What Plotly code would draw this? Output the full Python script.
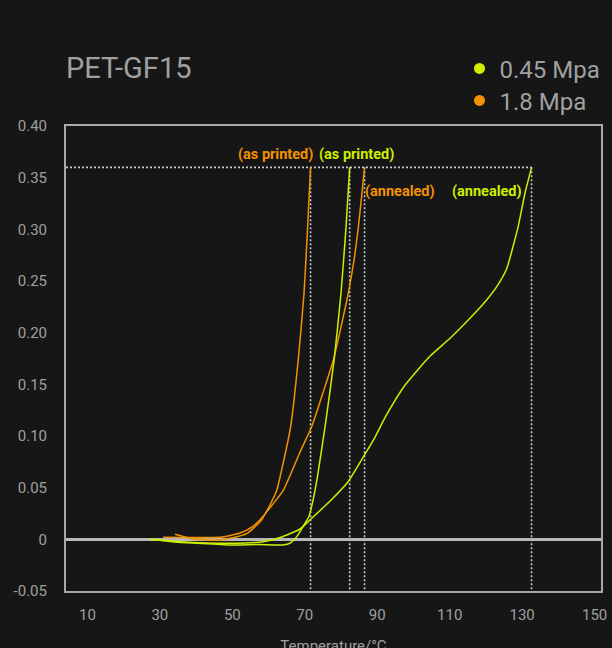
import plotly.graph_objects as go

# ---------------- data ----------------
title_text = "PET-GF15"
series_names = ["0.45 Mpa", "1.8 Mpa"]

# 1.8 MPa, as printed
t_18_printed = [34.2, 38.3, 42.5, 45.8, 49.4, 54.1, 58.0, 60.1, 62.3, 63.2, 66.1, 68.2, 69.8, 70.8, 71.6]
d_18_printed = [0.0049, 0.0010, -0.0005, -0.0007, 0.0010, 0.0058, 0.0185, 0.0313, 0.0477, 0.0606, 0.1090, 0.1736, 0.2384, 0.3026, 0.360]

# 1.8 MPa, annealed
t_18_annealed = [30.9, 36.9, 42.5, 47.2, 52.1, 55.4, 57.6, 61.0, 64.1, 68.7, 71.9, 75.0, 77.9, 80.0, 82.0, 83.6, 84.8, 85.7, 86.5]
d_18_annealed = [0.0020, 0.0018, 0.0018, 0.0023, 0.0061, 0.0119, 0.0187, 0.0332, 0.0477, 0.0845, 0.1090, 0.1416, 0.1736, 0.2055, 0.2381, 0.2703, 0.3026, 0.3323, 0.360]

# 0.45 MPa, as printed
t_045_printed = [27.3, 34.2, 40.2, 49.4, 57.6, 64.0, 65.9, 67.8, 69.5, 71.2, 72.3, 73.5, 75.6, 78.1, 80.0, 81.4, 82.4]
d_045_printed = [0.0000, -0.0026, -0.0038, -0.0055, -0.0050, -0.0055, -0.0038, 0.0026, 0.0122, 0.0226, 0.0381, 0.0606, 0.1090, 0.1736, 0.2381, 0.3026, 0.360]

# 0.45 MPa, annealed
t_045_annealed = [27.3, 35.6, 49.4, 58.5, 63.2, 68.7, 71.4, 77.0, 81.9, 86.2, 89.4, 92.4, 97.7, 104.6, 110.1, 115.6, 120.2, 123.0, 125.7, 128.9, 130.8, 132.6]
d_045_annealed = [0.0000, -0.0023, -0.0038, -0.0023, 0.0018, 0.0100, 0.0187, 0.0371, 0.0555, 0.0800, 0.0990, 0.1194, 0.1494, 0.1774, 0.1946, 0.2139, 0.2316, 0.2445, 0.2616, 0.3026, 0.3352, 0.360]

# HDT markers (temperature where deflection reaches the limit)
hdt_limit = 0.36
hdt_temps = [71.6, 82.4, 86.5, 132.6]

x_ticks = [10, 30, 50, 70, 90, 110, 130, 150]
y_ticks = [-0.05, 0, 0.05, 0.10, 0.15, 0.20, 0.25, 0.30, 0.35, 0.40]
y_tick_text = ["-0.05", "0", "0.05", "0.10", "0.15", "0.20", "0.25", "0.30", "0.35", "0.40"]

label_texts = ["(as printed)", "(as printed)", "(annealed)", "(annealed)"]

# ---------------- style ----------------
BG = "#161616"
TXT = "#a0a0a0"
GREEN = "#cfee00"
ORANGE = "#f39200"
FONT = "Roboto"
x_range = [4.09, 151.77]
y_range = [-0.05, 0.40]

fig = go.Figure()

curves = [
    (t_18_printed, d_18_printed, ORANGE),
    (t_18_annealed, d_18_annealed, ORANGE),
    (t_045_printed, d_045_printed, GREEN),
    (t_045_annealed, d_045_annealed, GREEN),
]
for tx, dy, col in curves:
    fig.add_trace(go.Scatter(x=tx, y=dy, mode="lines",
                             line=dict(color=col, width=1.5, shape="spline", smoothing=0.5),
                             showlegend=False, hoverinfo="skip"))

# legend entries (dots), one legend each so the spacing can match
for name, col, lg in zip(series_names, [GREEN, ORANGE], ["legend", "legend2"]):
    fig.add_trace(go.Scatter(x=[None], y=[None], mode="markers", name=name, legend=lg,
                             marker=dict(color=col, size=11)))

# dotted guide lines
DOT = dict(color="#c8c8c8", width=1.6, dash="2px,2px")
fig.add_shape(type="line", xref="x", yref="y", x0=x_range[0], x1=max(hdt_temps), y0=hdt_limit, y1=hdt_limit,
              line=DOT, layer="below")
for t in hdt_temps:
    fig.add_shape(type="line", xref="x", yref="y", x0=t, x1=t, y0=hdt_limit, y1=y_range[0], line=DOT, layer="below")

# curve labels
label_pos = [(72.8, 0.372, "right", ORANGE), (73.5, 0.372, "left", GREEN),
             (86.0, 0.337, "left", ORANGE), (130.5, 0.337, "right", GREEN)]
for txt, (lx, ly, anc, col) in zip(label_texts, label_pos):
    fig.add_annotation(x=lx, y=ly, xref="x", yref="y", text=txt, showarrow=False, xanchor=anc, yanchor="middle",
                       font=dict(family=FONT, size=14.5, color=col, weight="bold"))

legend_common = dict(x=0.7355, xanchor="left", yanchor="top", font=dict(family=FONT, size=24, color=TXT),
                     bgcolor="rgba(0,0,0,0)", itemclick=False)
fig.update_layout(
    width=612, height=660, autosize=False,
    paper_bgcolor=BG, plot_bgcolor=BG,
    margin=dict(l=66, r=11, t=126, b=69, autoexpand=False),
    font=dict(family=FONT, color=TXT, size=15),
    title=dict(text=title_text, x=0, xref="paper", xanchor="left", y=1 - 68 / 660, yref="container",
               yanchor="middle", font=dict(family=FONT, size=29, color=TXT)),
    legend=dict(y=1.1713, **legend_common),
    legend2=dict(y=1.1026, **legend_common),
    showlegend=True,
)
fig.update_xaxes(range=x_range, tickvals=x_ticks, showgrid=False, zeroline=False,
                 showline=True, mirror=True, linecolor="#a8a8a8", linewidth=2,
                 ticks="outside", ticklen=9, tickcolor=BG, tickfont=dict(family=FONT, size=15, color=TXT),
                 title=dict(text="Temperature/°C", font=dict(family=FONT, size=15, color=TXT), standoff=17),
                 automargin=False)
fig.update_yaxes(range=y_range, tickvals=y_ticks, ticktext=y_tick_text, showgrid=False,
                 zeroline=True, zerolinecolor="#b8b8b8", zerolinewidth=3,
                 showline=True, mirror=True, linecolor="#a8a8a8", linewidth=2,
                 ticks="outside", ticklen=14, tickcolor=BG, tickfont=dict(family=FONT, size=15, color=TXT),
                 automargin=False)

fig.write_html(
    "out.html",
    config={"displayModeBar": False, "responsive": False},
    post_script="document.body.style.margin='0';document.body.style.background='#161616';"
                "document.documentElement.style.overflow='hidden';",
)
